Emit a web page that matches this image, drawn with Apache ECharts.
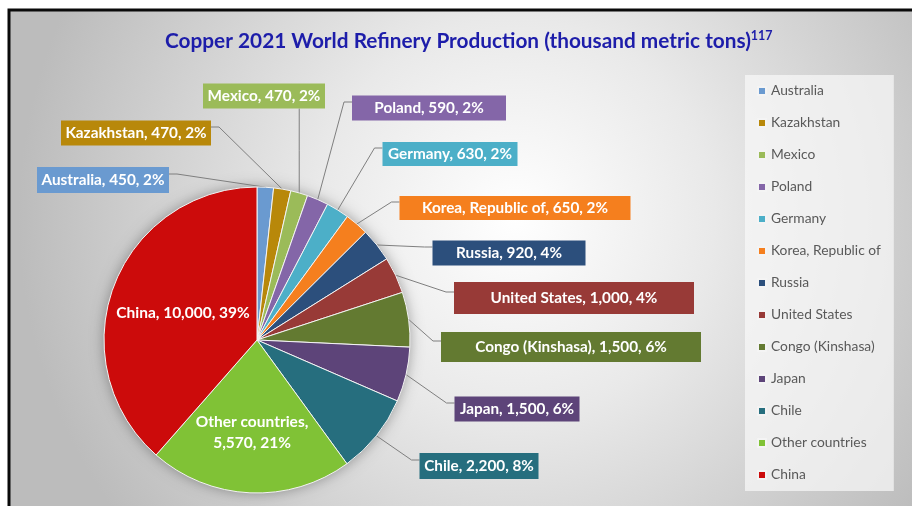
<!DOCTYPE html>
<html>
<head>
<meta charset="utf-8">
<script src="https://cdn.jsdelivr.net/npm/echarts@6/dist/echarts.min.js"></script>
<style>
  html, body { margin: 0; padding: 0; background: #fff; }
  #chart { width: 912px; height: 506px; }
</style>
</head>
<body>
<div id="chart"></div>
<script>
// Refinery output by country, thousand metric tons (2021)
const categories = ['Australia', 'Kazakhstan', 'Mexico', 'Poland', 'Germany', 'Korea, Republic of',
  'Russia', 'United States', 'Congo (Kinshasa)', 'Japan', 'Chile', 'Other countries', 'China'];
const production = [450, 470, 470, 590, 630, 650, 920, 1000, 1500, 1500, 2200, 5570, 10000];
const sliceColors = ['#6a9ad0', '#b8880a', '#9bbb59', '#8466a8', '#4cafc8', '#f57f1e',
  '#2c4f7c', '#983a37', '#637a31', '#5d4479', '#266e7e', '#80c236', '#cc0b0b'];

// Callout boxes: [centre x, centre y, width, height]; width 0 = text sits inside the slice
const calloutBoxes = [
  [103, 180, 132, 26],
  [136, 133, 150, 25],
  [264, 96, 122, 25],
  [429, 108, 154, 25],
  [450, 154, 135, 24],
  [515, 208, 231, 24],
  [509, 253, 153, 25],
  [574, 298, 240, 32],
  [571, 347, 260, 30],
  [517, 409, 125, 25],
  [479, 466, 119, 26],
  [252, 432, 0, 0],
  [183, 313, 0, 0]
];

const FONT = 'Lato';
const chart = echarts.init(document.getElementById('chart'), null, { renderer: 'canvas' });

const fmt = (v) => v.toLocaleString('en-US');

const pieData = categories.map((name, i) => {
  const box = calloutBoxes[i];
  const inside = box[2] === 0;
  return {
    name,
    value: production[i],
    itemStyle: { color: sliceColors[i] },
    label: inside
      ? { backgroundColor: 'transparent', lineHeight: 21, fontSize: 15.5 }
      : { backgroundColor: sliceColors[i], width: box[2], height: box[3], lineHeight: box[3] },
    labelLine: { show: !inside }
  };
});

const option = {
  backgroundColor: '#ffffff',
  animation: false,
  graphic: [{
    type: 'rect',
    silent: true,
    shape: { x: 9, y: 10, width: 920, height: 520 },
    style: {
      fill: new echarts.graphic.RadialGradient(0.55, 0.4, 0.95, [
        { offset: 0, color: '#ffffff' },
        { offset: 0.4, color: '#e9e9e9' },
        { offset: 1, color: '#bcbcbc' }
      ]),
      stroke: '#0a0a0a',
      lineWidth: 3
    }
  }],
  title: {
    text: '{m|Copper 2021 World Refinery Production (thousand metric tons)}{s|117}',
    left: 160,
    top: 24,
    textStyle: {
      rich: {
        m: { fontFamily: FONT, fontWeight: 'bold', fontSize: 20.8, color: '#1d1daa' },
        s: { fontFamily: FONT, fontWeight: 'bold', fontSize: 12.5, color: '#1d1daa', padding: [0, 0, 11, 0] }
      }
    }
  },
  legend: {
    orient: 'vertical',
    left: 745,
    top: 75,
    icon: 'rect',
    itemWidth: 8,
    itemHeight: 8,
    itemGap: 18,
    padding: [9, 13, 9, 12],
    backgroundColor: 'rgba(248,248,248,0.72)',
    textStyle: { fontFamily: FONT, fontSize: 13.8, color: '#595959', lineHeight: 14 },
    data: categories
  },
  series: [
    {
      type: 'pie',
      z: 2,
      center: [257, 340],
      radius: 153,
      startAngle: 90,
      clockwise: true,
      percentPrecision: 0,
      avoidLabelOverlap: false,
      itemStyle: { borderColor: '#f4f4f4', borderWidth: 1 },
      emphasis: { scale: false },
      label: {
        show: true,
        position: 'outside',
        fontFamily: FONT,
        fontWeight: 'bold',
        fontSize: 15.3,
        color: '#ffffff',
        align: 'center',
        formatter: (p) => {
          const sep = p.name === 'Other countries' ? ',\n' : ', ';
          return p.name + sep + fmt(p.value) + ', ' + p.percent + '%';
        }
      },
      labelLine: { show: true, lineStyle: { color: '#7f7f7f', width: 1 } },
      labelLayout: (params) => {
        const [cx, cy, w, h] = calloutBoxes[params.dataIndex];
        const out = { x: cx, y: cy, align: 'center', verticalAlign: 'middle' };
        const pts = params.labelLinePoints;
        if (w === 0 || !pts) return out;
        const a = pts[0];
        const left = cx - w / 2, right = cx + w / 2, top = cy - h / 2, bottom = cy + h / 2;
        let end, bend;
        if (a[0] >= left && a[0] <= right) {
          end = [a[0], a[1] < top ? top : bottom];
          bend = [a[0], (a[1] + end[1]) / 2];
        } else if (cx > a[0]) {
          end = [left, cy - 6];
          bend = [left - 8, cy - 6];
        } else {
          end = [right, cy - 6];
          bend = [right + 8, cy - 6];
        }
        out.labelLinePoints = [a, bend, end];
        return out;
      },
      data: pieData
    },
    {
      // soft drop shadow behind the pie disc
      type: 'pie',
      silent: true,
      z: 1,
      center: [257, 340],
      radius: 153,
      label: { show: false },
      labelLine: { show: false },
      itemStyle: { color: '#8a8a8a', shadowBlur: 14, shadowColor: 'rgba(0,0,0,0.35)' },
      data: [{ name: '', value: 1 }]
    }
  ]
};

chart.setOption(option);
</script>
</body>
</html>
